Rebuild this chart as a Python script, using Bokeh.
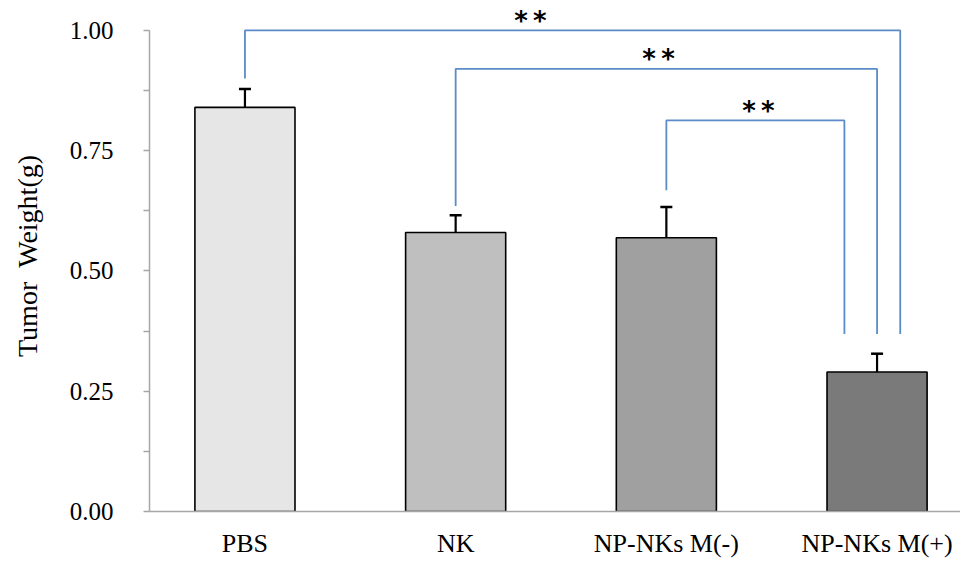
from bokeh.plotting import figure
from bokeh.models import Range1d, FixedTicker, ColumnDataSource, Whisker, TeeHead, NumeralTickFormatter
from bokeh.core.properties import value
from bokeh.embed import file_html
from bokeh.resources import INLINE

categories = ["PBS", "NK", "NP-NKs M(-)", "NP-NKs M(+)"]
means = [0.840, 0.580, 0.569, 0.290]
errors = [0.038, 0.036, 0.064, 0.038]
bar_colors = ["#e6e6e6", "#bfbfbf", "#a0a0a0", "#7a7a7a"]

# significance brackets: group indices, vertical extents, labels
br_left = [0, 1, 2]
br_right = [3, 3, 3]
br_right_shift = [0.11, 0.0, -0.155]
br_left_bottom = [0.900, 0.635, 0.668]
br_right_bottom = [0.369, 0.369, 0.369]
br_top = [1.000, 0.920, 0.813]
br_star_x = [1.355, 1.963, 2.437]
br_label = ["*\u2009*", "*\u2009*", "*\u2009*"]

y_ticks = [0.0, 0.25, 0.5, 0.75, 1.0]
y_minor = [0.125, 0.375, 0.625, 0.875]

xs = list(range(len(categories)))
tops = [m + e for m, e in zip(means, errors)]

p = figure(width=960, height=560, output_backend="svg", toolbar_location=None,
           x_range=Range1d(-0.453, 3.396), y_range=Range1d(0, 1.0622),
           min_border_left=149, min_border_right=0, min_border_top=0, min_border_bottom=48)
p.outline_line_color = None
p.xgrid.visible = False
p.ygrid.visible = False
p.background_fill_color = "white"

src = ColumnDataSource(dict(x=xs, top=means, color=bar_colors, upper=tops))
p.vbar(x="x", top="top", bottom=0, width=0.475, fill_color="color",
       line_color="black", line_width=1.6, source=src)

wh = Whisker(base="x", lower="top", upper="upper", source=src,
             line_color="black", line_width=2.2,
             upper_head=TeeHead(size=12, line_color="black", line_width=2.5),
             lower_head=None)
p.add_layout(wh)

bx, by = [], []
for l, r, sh, lb, rb, t in zip(br_left, br_right, br_right_shift, br_left_bottom, br_right_bottom, br_top):
    bx.append([l, l, r + sh, r + sh])
    by.append([lb, t, t, rb])
p.multi_line(xs=bx, ys=by, line_color="#5b8bc8", line_width=1.8)

p.text(x=br_star_x, y=[t + 0.02 for t in br_top], text=br_label,
       text_font=value("DejaVu Sans"), text_font_size="26px", text_font_style="bold",
       text_align="center", text_baseline="middle", text_color="black")

# x axis
xa = p.xaxis[0]
xa.ticker = FixedTicker(ticks=xs)
xa.major_label_overrides = {i: c for i, c in enumerate(categories)}
xa.major_tick_line_color = None
xa.major_tick_out = 0
xa.major_tick_in = 0
xa.minor_tick_line_color = None
xa.minor_tick_out = 0
xa.axis_line_color = "#a6a6a6"
xa.axis_line_width = 1.5
xa.major_label_text_font = "Liberation Serif"
xa.major_label_text_font_size = "26px"
xa.major_label_text_color = "black"
xa.major_label_standoff = 17

# y axis
ya = p.yaxis[0]
ya.ticker = FixedTicker(ticks=y_ticks, minor_ticks=y_minor)
ya.formatter = NumeralTickFormatter(format="0.00")
ya.bounds = (0, 1)
ya.axis_line_color = "#a6a6a6"
ya.axis_line_width = 1.5
ya.major_tick_line_color = "#a6a6a6"
ya.major_tick_line_width = 1.5
ya.major_tick_out = 6
ya.major_tick_in = 0
ya.minor_tick_line_color = "#a6a6a6"
ya.minor_tick_line_width = 1.5
ya.minor_tick_out = 6
ya.minor_tick_in = 0
ya.major_label_text_font = "Liberation Serif"
ya.major_label_text_font_size = "25px"
ya.major_label_text_color = "black"
ya.major_label_standoff = 30
ya.axis_label = "Tumor\u2002Weight(g)"
ya.axis_label_text_font = "Liberation Serif"
ya.axis_label_text_font_size = "28px"
ya.axis_label_text_font_style = "normal"
ya.axis_label_text_color = "black"
ya.axis_label_standoff = 24

open("out.html", "w").write(file_html(p, INLINE))
